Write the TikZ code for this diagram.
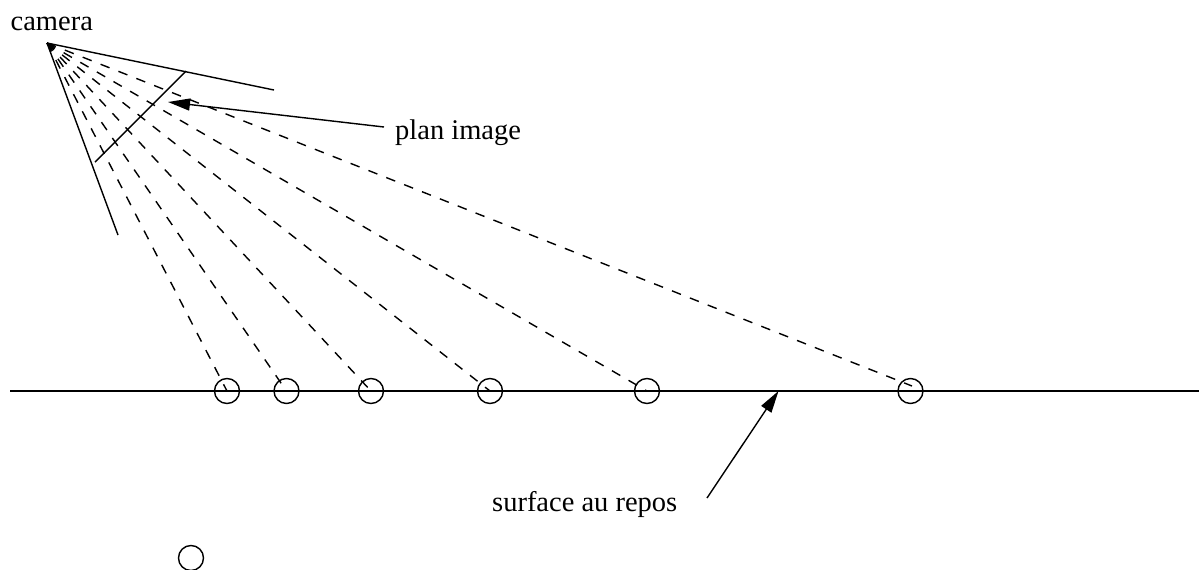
\documentclass[tikz,border=0pt]{standalone}
\usepackage{fontspec}
\setmainfont{Liberation Serif}
\usetikzlibrary{arrows.meta}
\tikzset{
  ball/.style = {draw, circle, inner sep = 0pt, minimum size = 0.25cm},
  ray/.style = {dash pattern = on 0.096cm off 0.096cm},
  bigarrow/.style = {-{Triangle[length=0.22cm,width=0.12cm]}},
  label/.style = {inner sep = 0pt, anchor = base west, font = \fontsize{8.1pt}{10pt}\selectfont}
}
\begin{document}
\begin{tikzpicture}[x=0.01cm, y=-0.01cm, line width=0.4pt]
\useasboundingbox (0,0) rectangle (1199,569);
\coordinate (apex) at (47,43);
\coordinate (topend) at (274,90);
\coordinate (leftend) at (118,235);
\coordinate (planA) at (186,71);
\coordinate (planB) at (95,162);
\coordinate (surfL) at (10,391);
\coordinate (surfR) at (1199,391);
\coordinate (surfP) at (778.5,391);
\coordinate (planfrom) at (384,127);
\coordinate (planto) at (168,102);
\coordinate (surffrom) at (707,498);
\coordinate (rayend) at (912,386);
\node [ball] (b1) at (227,391) {};
\node [ball] (b2) at (286.5,391) {};
\node [ball] (b3) at (371,391) {};
\node [ball] (b4) at (490,391) {};
\node [ball] (b5) at (647,391) {};
\node [ball] (b6) at (910.5,391) {};
\node [ball] (b7) at (191,558) {};
\node [label] (cam) at (10,30.5) {camera};
\node [label] (plan) at (394.5,139.5) {plan image};
\node [label] (surf) at (491.5,511.5) {surface au repos};
\draw (surfL)--(surfR);
\draw (apex)--(topend);
\draw (apex)--(leftend);
\draw (planA)--(planB);
\foreach \i in {1,...,5} {
  \draw[ray] (apex)--(b\i.center);
}
\draw[ray] (apex)--(rayend);
\fill[black] (apex)--(55,44.5)--(50,51.5)--cycle;
\draw[bigarrow] (planfrom)--(planto);
\draw[bigarrow] (surffrom)--(surfP);
\end{tikzpicture}
\end{document}
